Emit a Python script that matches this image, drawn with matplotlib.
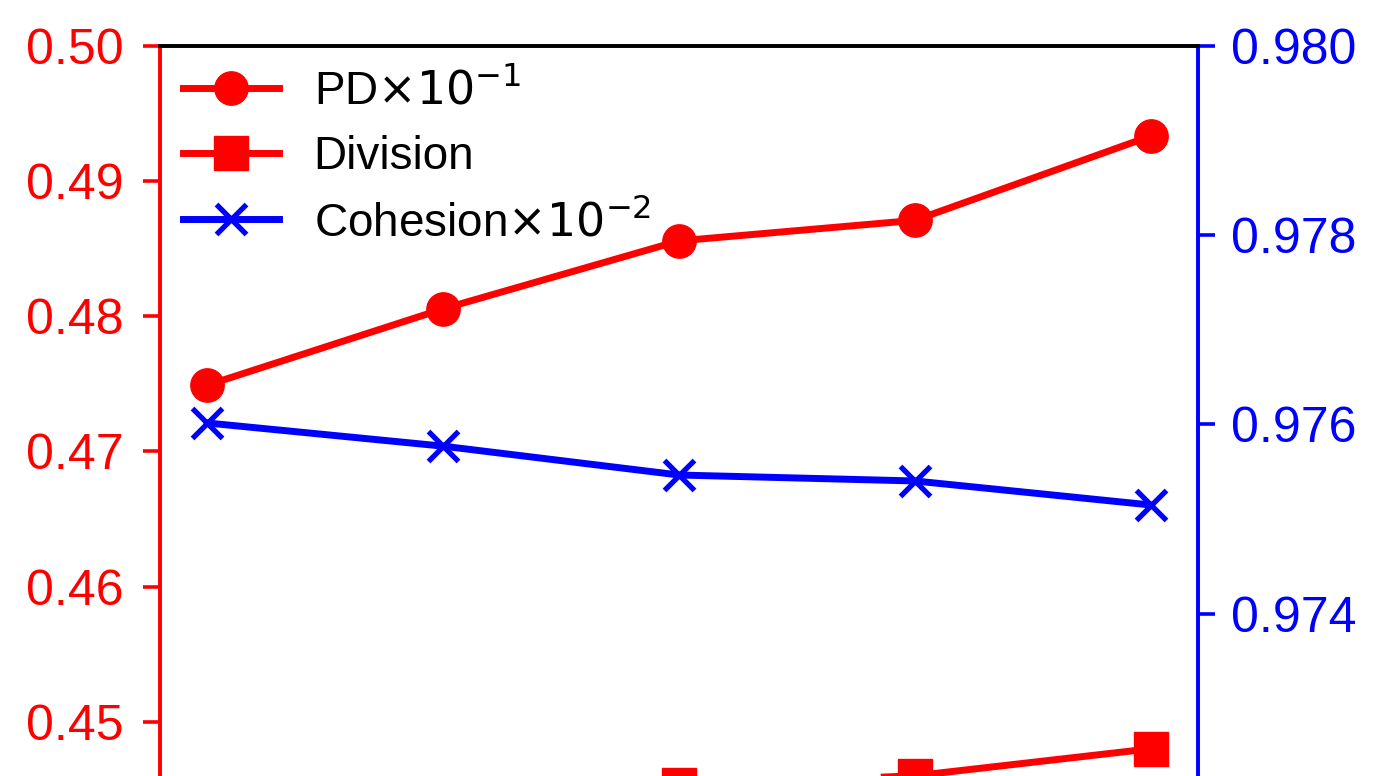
import matplotlib
matplotlib.use("Agg")
import matplotlib.pyplot as plt

plt.rcParams['font.family'] = ['Liberation Sans', 'DejaVu Sans']

x = [0, 1, 2, 3, 4]
pd_vals = [0.4749, 0.48055, 0.48558, 0.4871, 0.49334]
division = [0.4420, 0.4440, 0.4453, 0.4460, 0.4480]
cohesion = [0.976015, 0.97577, 0.975465, 0.975402, 0.975148]

left_ticks = [0.45, 0.46, 0.47, 0.48, 0.49, 0.50]
right_ticks = [0.974, 0.976, 0.978, 0.980]

W, H = 1386, 776
fig = plt.figure(figsize=(W / 100, H / 100), dpi=100)
ax_left = 160 / W
ax_w = (1198 - 160) / W
ax_top = 1 - 46 / H
ax_h = 946 / H
ax = fig.add_axes([ax_left, ax_top - ax_h, ax_w, ax_h])
ax2 = ax.twinx()

red = '#ff0000'
blue = '#0000ff'
lw = 5.0
l1, = ax.plot(x, pd_vals, color=red, lw=lw, marker='o', markersize=24, label=r'PD$\times10^{-1}$')
l2, = ax.plot(x, division, color=red, lw=lw, marker='s', markersize=25, label='Division')
l3, = ax2.plot(x, cohesion, color=blue, lw=lw, marker='x', markersize=22, markeredgewidth=3.8,
               label=r'Cohesion$\times10^{-2}$')

ax.set_xlim(-0.2, 4.2)
ax.set_ylim(0.43, 0.50)
ax2.set_ylim(0.970, 0.980)
ax.set_yticks(left_ticks)
ax.set_yticklabels([f'{v:.2f}' for v in left_ticks])
ax2.set_yticks(right_ticks)
ax2.set_yticklabels([f'{v:.3f}' for v in right_ticks])

for a in (ax, ax2):
    for s in a.spines.values():
        s.set_linewidth(2.6)
ax.spines['left'].set_color(red)
ax2.spines['left'].set_color(red)
ax2.spines['right'].set_color(blue)
ax.spines['right'].set_color(blue)
ax.spines['top'].set_color('black')
ax2.spines['top'].set_color('black')

ax.tick_params(axis='y', colors=red, labelsize=36, length=12, width=2.6, pad=14)
ax2.tick_params(axis='y', colors=blue, labelsize=36, length=12, width=2.6, pad=12)
ax.tick_params(axis='x', bottom=False, labelbottom=False)

leg = ax.legend(handles=[l1, l2, l3], loc='upper left', frameon=False, fontsize=33,
                handlelength=2.1, handletextpad=0.75, labelspacing=0.45,
                borderaxespad=0.3, borderpad=0.2)

fig.savefig('out.png', dpi=100)
